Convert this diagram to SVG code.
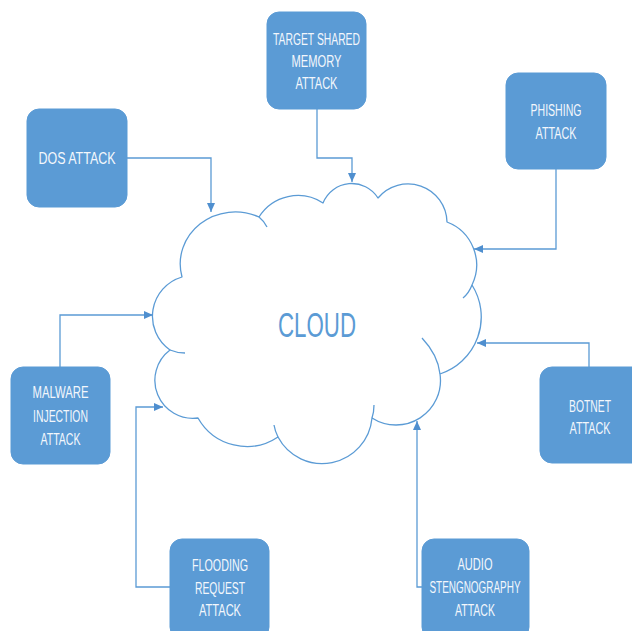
<svg xmlns="http://www.w3.org/2000/svg" width="632" height="631" viewBox="0 0 632 631">
  <style>
    .box { fill: #5B9BD5; stroke: #5B9BD5; stroke-width: 1; }
    .lbl { font-family: "Liberation Sans", Arial, sans-serif; font-size: 16px; fill: #F3F7FC; text-anchor: middle; }
    .wire { fill: none; stroke: #5B9BD5; stroke-width: 1.3; }
    .cloud { fill: #FFFFFF; stroke: #5B9BD5; stroke-width: 1.3; stroke-linejoin: round; }
    .tail { fill: none; stroke: #5B9BD5; stroke-width: 1.3; }
  </style>
  <defs>
    <marker id="arrow" markerUnits="userSpaceOnUse" markerWidth="10" markerHeight="10" refX="9" refY="4" orient="auto">
      <path d="M0,0 L9,4 L0,8 Z" fill="#4F8FCF"/>
    </marker>
  </defs>

  <rect width="632" height="631" fill="#FFFFFF"/>

  <!-- central cloud -->
  <g id="cloud">
    <path class="cloud" d="M182,277
      A55,52 0 0 1 259,217
      A46,46 0 0 1 323,203
      A31,31 0 0 1 378,198
      A39,39 0 0 1 447,222
      A46,46 0 0 1 472,285
      A60,60 0 0 1 440,374
      A44.5,44.5 0 0 1 372,418
      A50,50 0 0 1 278,437
      A56,56 0 0 1 198,418
      A38,38 0 0 1 170,350
      A41,41 0 0 1 182,277 Z"/>
    <path class="tail" d="M259,217 Q264,221 267,227"/>
    <path class="tail" d="M170,350 Q177,353 185,353"/>
    <path class="tail" d="M278,437 Q275,431 274,425"/>
    <path class="tail" d="M372,418 Q374,412 374,405"/>
    <path class="tail" d="M440,374 Q438,355 422,338"/>
    <path class="tail" d="M472,285 Q469,293 463,298"/>
    <text x="317" y="337" font-family="'Liberation Sans', Arial, sans-serif" font-size="35" fill="#5B9BD5" text-anchor="middle" textLength="78" lengthAdjust="spacingAndGlyphs">CLOUD</text>
  </g>

  <!-- connectors -->
  <g id="connectors">
    <path class="wire" d="M127,158 H211 V212" marker-end="url(#arrow)"/>
    <path class="wire" d="M317,109 V158 H352 V182" marker-end="url(#arrow)"/>
    <path class="wire" d="M556,169 V249 H474" marker-end="url(#arrow)"/>
    <path class="wire" d="M589,367 V343 H477" marker-end="url(#arrow)"/>
    <path class="wire" d="M422,587 H417 V421" marker-end="url(#arrow)"/>
    <path class="wire" d="M170,587 H136 V407 H163" marker-end="url(#arrow)"/>
    <path class="wire" d="M60,367 V315 H153" marker-end="url(#arrow)"/>
  </g>

  <!-- attack nodes -->
  <g id="target-shared-memory">
    <rect class="box" x="267" y="12" width="99" height="97" rx="12"/>
    <text class="lbl" x="316.5" y="44.5" textLength="87" lengthAdjust="spacingAndGlyphs">TARGET SHARED</text>
    <text class="lbl" x="316.5" y="66.5" textLength="50" lengthAdjust="spacingAndGlyphs">MEMORY</text>
    <text class="lbl" x="316.5" y="88.5" textLength="42" lengthAdjust="spacingAndGlyphs">ATTACK</text>
  </g>

  <g id="dos">
    <rect class="box" x="27" y="109" width="100" height="98" rx="12"/>
    <text class="lbl" x="77" y="164" textLength="77" lengthAdjust="spacingAndGlyphs">DOS ATTACK</text>
  </g>

  <g id="phishing">
    <rect class="box" x="506" y="73" width="100" height="96" rx="12"/>
    <text class="lbl" x="556" y="116" textLength="51" lengthAdjust="spacingAndGlyphs">PHISHING</text>
    <text class="lbl" x="556" y="139" textLength="41" lengthAdjust="spacingAndGlyphs">ATTACK</text>
  </g>

  <g id="malware-injection">
    <rect class="box" x="11" y="367" width="99" height="97" rx="12"/>
    <text class="lbl" x="60.5" y="398" textLength="56" lengthAdjust="spacingAndGlyphs">MALWARE</text>
    <text class="lbl" x="60.5" y="422" textLength="55" lengthAdjust="spacingAndGlyphs">INJECTION</text>
    <text class="lbl" x="60.5" y="445" textLength="40" lengthAdjust="spacingAndGlyphs">ATTACK</text>
  </g>

  <g id="botnet">
    <!-- box runs on past the right edge, so only its left corners are rounded -->
    <path class="box" d="M552,367 H632 V463 H552 A12,12 0 0 1 540,451 V379 A12,12 0 0 1 552,367 Z"/>
    <text class="lbl" x="590" y="412" textLength="42" lengthAdjust="spacingAndGlyphs">BOTNET</text>
    <text class="lbl" x="590" y="434" textLength="41" lengthAdjust="spacingAndGlyphs">ATTACK</text>
  </g>

  <g id="flooding-request">
    <rect class="box" x="170" y="539" width="99" height="100" rx="12"/>
    <text class="lbl" x="220" y="571" textLength="56" lengthAdjust="spacingAndGlyphs">FLOODING</text>
    <text class="lbl" x="220" y="594" textLength="50" lengthAdjust="spacingAndGlyphs">REQUEST</text>
    <text class="lbl" x="220" y="616" textLength="42" lengthAdjust="spacingAndGlyphs">ATTACK</text>
  </g>

  <g id="audio-stengnography">
    <rect class="box" x="422" y="539" width="107" height="100" rx="12"/>
    <text class="lbl" x="475" y="570" textLength="35" lengthAdjust="spacingAndGlyphs">AUDIO</text>
    <text class="lbl" x="475" y="593" textLength="91" lengthAdjust="spacingAndGlyphs">STENGNOGRAPHY</text>
    <text class="lbl" x="475" y="616" textLength="40" lengthAdjust="spacingAndGlyphs">ATTACK</text>
  </g>
</svg>
